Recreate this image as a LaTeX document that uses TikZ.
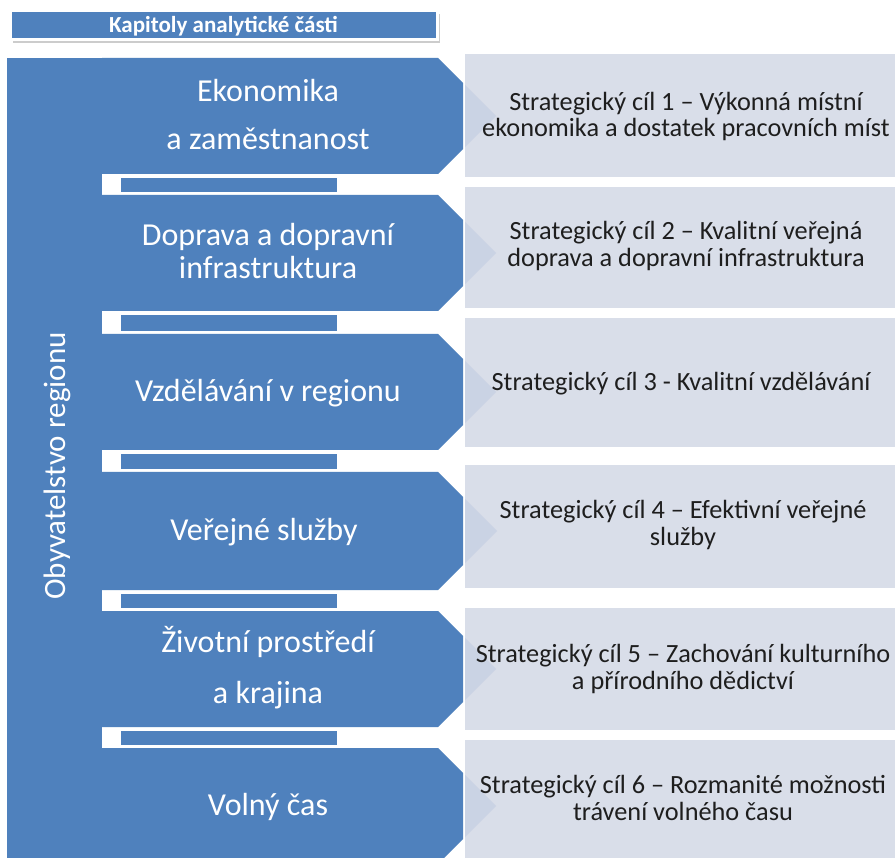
\documentclass[tikz,border=0pt]{standalone}
\usepackage{fontspec}
\setmainfont{Carlito}
\usetikzlibrary{shadows}
\definecolor{ublue}{HTML}{4F81BD}
\definecolor{lbox}{HTML}{D9DEE9}
\definecolor{ltri}{HTML}{CAD3E4}
\definecolor{dtext}{HTML}{1E1E1E}
\begin{document}
\begin{tikzpicture}[x=1pt,y=-1pt,
  lefttext/.style={text=white,font=\fontsize{32}{32}\selectfont,anchor=base,inner sep=0pt},
  righttext/.style={text=dtext,font=\fontsize{26.3}{26}\selectfont,anchor=base,inner sep=0pt},
  hdrbox/.style={draw=white,line width=3pt,fill=ublue,minimum width=427pt,minimum height=29pt,inner sep=0pt,
    drop shadow={shadow xshift=3pt,shadow yshift=-3pt,opacity=0.2,fill=black}},
  hdrtext/.style={text=white,font=\bfseries\fontsize{23}{23}\selectfont,anchor=base,inner sep=0pt},
  sidetext/.style={text=white,font=\fontsize{31}{31}\selectfont,anchor=base,inner sep=0pt,rotate=90}]
\useasboundingbox (0,0) rectangle (895,858);
\clip (0,0) rectangle (895,858);
\fill[white] (0,0) rectangle (895,858);
% header
\node[hdrbox] (hdr) at (223.5,25.5) {};
\node[hdrtext] (hdrt) at (223.5,33) {Kapitoly analytické části};
% left band
\fill[ublue] (7,58) rectangle (102,870);
% chevrons, boxes, tips
\foreach \ct/\cb/\bt/\bb in {58/174/54/177, 195/311/187/308, 334/450/318/447, 472/590/465/588, 611/727/608/730, 748/864/740/870}{
  \pgfmathsetmacro{\mid}{(\ct+\cb)/2}
  \pgfmathsetmacro{\tip}{438+(\cb-\ct)/2}
  \fill[ublue] (102,\ct) -- (438,\ct) -- (463,\ct+25) -- (463,\cb-25) -- (438,\cb) -- (102,\cb) -- cycle;
  \fill[lbox] (465,\bt) rectangle (905,\bb);
  \fill[ltri] (465,\ct+27) -- (\tip,\mid) -- (465,\cb-27) -- cycle;
}
% bars in the white bands
\foreach \gt/\gb in {174/195, 311/334, 450/472, 590/611, 727/748}{
  \fill[ublue] (121,\gt+4) rectangle (337,\gb-3);
}
% side text
\node[sidetext] (obyv) at (65,466) {Obyvatelstvo regionu};
% left texts
\node[lefttext] (l1a) at (268,102) {Ekonomika};
\node[lefttext] (l1b) at (268,150) {a zaměstnanost};
\node[lefttext] (l2a) at (268,246) {Doprava a dopravní};
\node[lefttext] (l2b) at (268,279) {infrastruktura};
\node[lefttext] (l3) at (268,402) {Vzdělávání v regionu};
\node[lefttext] (l4) at (264,541) {Veřejné služby};
\node[lefttext] (l5a) at (268,652) {Životní prostředí};
\node[lefttext] (l5b) at (268,703) {a krajina};
\node[lefttext] (l6) at (268,815) {Volný čas};
% right texts
\node[righttext] (r1a) at (686,111) {Strategický cíl 1 – Výkonná místní};
\node[righttext] (r1b) at (686,137) {ekonomika a dostatek pracovních míst};
\node[righttext] (r2a) at (686,240) {Strategický cíl 2 – Kvalitní veřejná};
\node[righttext] (r2b) at (686,267) {doprava a dopravní infrastruktura};
\node[righttext] (r3) at (681,391) {Strategický cíl 3 - Kvalitní vzdělávání};
\node[righttext] (r4a) at (683,519) {Strategický cíl 4 – Efektivní veřejné};
\node[righttext] (r4b) at (683,546) {služby};
\node[righttext] (r5a) at (683,662) {Strategický cíl 5 – Zachování kulturního};
\node[righttext] (r5b) at (683,689) {a přírodního dědictví};
\node[righttext] (r6a) at (683,793) {Strategický cíl 6 – Rozmanité možnosti};
\node[righttext] (r6b) at (683,820) {trávení volného času};
\end{tikzpicture}
\end{document}
